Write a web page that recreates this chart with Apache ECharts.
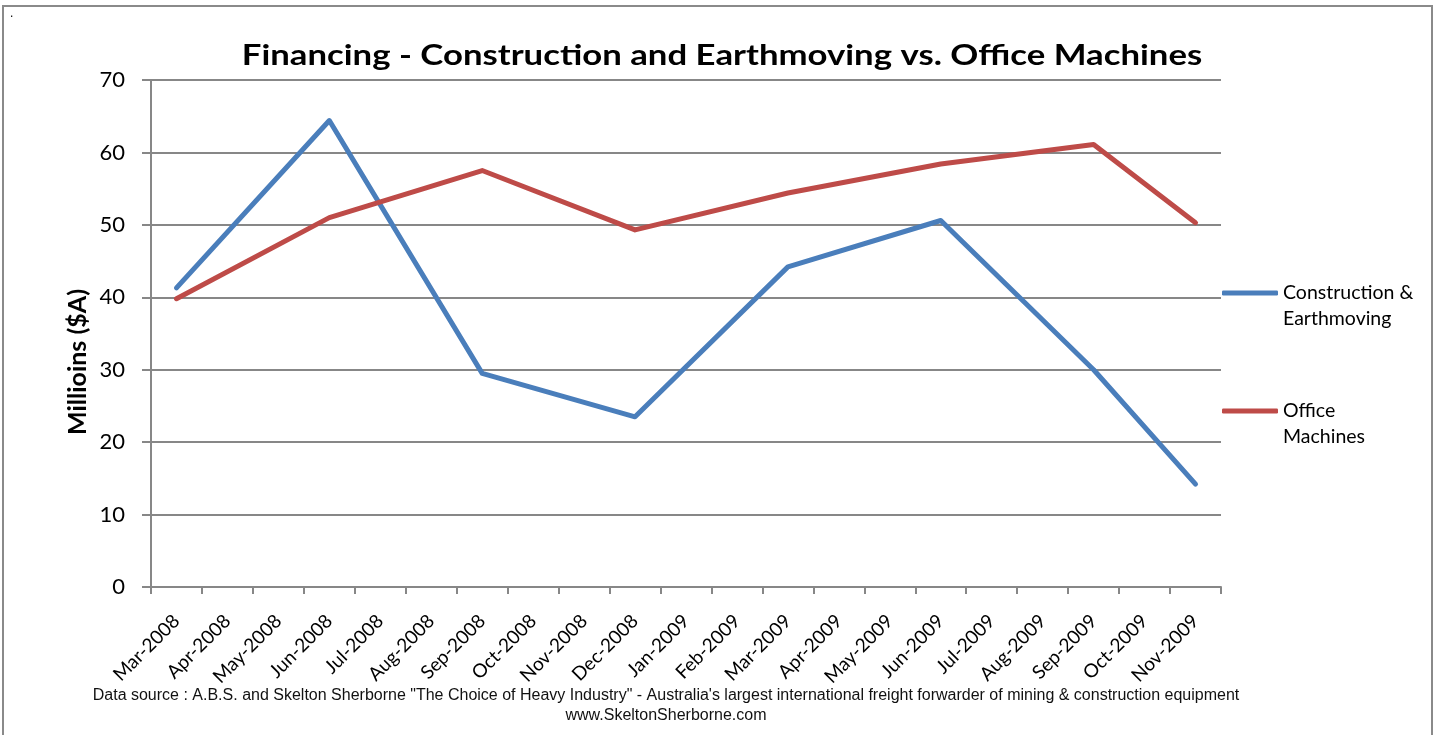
<!DOCTYPE html>
<html>
<head>
<meta charset="utf-8">
<script src="https://cdn.jsdelivr.net/npm/echarts@6/dist/echarts.min.js"></script>
<style>
  html, body { margin: 0; padding: 0; background: #fff; }
  #chart { width: 1435px; height: 735px; }
</style>
</head>
<body>
<div id="chart"></div>
<script>
// months on the category axis
const months = [
  'Mar-2008', 'Apr-2008', 'May-2008', 'Jun-2008', 'Jul-2008', 'Aug-2008', 'Sep-2008',
  'Oct-2008', 'Nov-2008', 'Dec-2008', 'Jan-2009', 'Feb-2009', 'Mar-2009', 'Apr-2009',
  'May-2009', 'Jun-2009', 'Jul-2009', 'Aug-2009', 'Sep-2009', 'Oct-2009', 'Nov-2009'
];

// quarterly readings, gaps are joined
const construction = [41.3, null, null, 64.4, null, null, 29.5, null, null, 23.5, null, null,
  44.2, null, null, 50.6, null, null, 30.0, null, 14.2];
const office = [39.8, null, null, 51.0, null, null, 57.5, null, null, 49.3, null, null,
  54.4, null, null, 58.4, null, null, 61.1, null, 50.3];

const seriesNames = ['Construction & Earthmoving', 'Office Machines'];
const legendLabels = {
  'Construction & Earthmoving': ' \nConstruction &\nEarthmoving',
  'Office Machines': ' \nOffice\nMachines'
};

const chart = echarts.init(document.getElementById('chart'));

const option = {
  backgroundColor: '#fff',
  animation: false,
  grid: { left: 151, right: 214, top: 80, bottom: 148 },
  legend: {
    orient: 'vertical',
    left: 1222,
    top: 254,
    padding: 0,
    itemGap: 40,
    itemWidth: 56,
    itemHeight: 5,
    icon: 'roundRect',
    data: seriesNames,
    formatter: name => legendLabels[name],
    textStyle: { fontFamily: 'Lato', fontSize: 19.5, lineHeight: 26, color: '#000' }
  },
  xAxis: {
    type: 'category',
    data: months,
    boundaryGap: true,
    axisLine: { lineStyle: { color: '#878787', width: 2 } },
    axisTick: { show: true, length: 7, lineStyle: { color: '#878787', width: 2 } },
    axisLabel: {
      interval: 0, rotate: 45, margin: 31,
      fontFamily: 'Lato', fontSize: 19, color: '#000'
    },
    splitLine: { show: false }
  },
  yAxis: {
    type: 'value',
    min: 0, max: 70, interval: 10,
    axisLine: { show: true, lineStyle: { color: '#878787', width: 2 } },
    axisTick: { show: true, length: 9, lineStyle: { color: '#878787', width: 2 } },
    axisLabel: { margin: 26, fontFamily: 'Lato', fontSize: 22, color: '#000' },
    splitLine: { lineStyle: { color: '#878787', width: 2 } }
  },
  series: [
    {
      name: seriesNames[0], type: 'line', data: construction, connectNulls: true,
      showSymbol: false, color: '#4a7ebb',
      lineStyle: { width: 5, color: '#4a7ebb', cap: 'round', join: 'round' }
    },
    {
      name: seriesNames[1], type: 'line', data: office, connectNulls: true,
      showSymbol: false, color: '#be4b48',
      lineStyle: { width: 5, color: '#be4b48', cap: 'round', join: 'round' }
    }
  ],
  graphic: [
    {
      type: 'rect', silent: true,
      shape: { x: 3, y: 6, width: 1429, height: 740 },
      style: { fill: 'none', stroke: '#8a8a8a', lineWidth: 2 }
    },
    {
      type: 'text', left: 10, top: 8,
      style: { text: '.', fontSize: 12, fill: '#000' }
    },
    {
      // chart title, drawn wide like the original
      type: 'text', x: 722, y: 56, scaleX: 1.24,
      style: {
        text: 'Financing - Construction and Earthmoving vs. Office Machines',
        align: 'center', verticalAlign: 'middle',
        fontFamily: 'Lato', fontWeight: 'bold', fontSize: 28, fill: '#000'
      }
    },
    {
      // y axis title
      type: 'text', x: 78, y: 362, rotation: Math.PI / 2,
      style: {
        text: 'Millioins ($A)',
        align: 'center', verticalAlign: 'middle',
        fontFamily: 'Lato', fontWeight: 'bold', fontSize: 25, fill: '#000'
      }
    },
    {
      type: 'text', x: 666, y: 686,
      style: {
        text: 'Data source : A.B.S. and Skelton Sherborne "The Choice of Heavy Industry" - Australia\'s largest international freight forwarder of mining & construction equipment\nwww.SkeltonSherborne.com',
        align: 'center', lineHeight: 20,
        fontFamily: 'Liberation Sans', fontSize: 16, fill: '#111'
      }
    }
  ]
};

chart.setOption(option);
</script>
</body>
</html>
